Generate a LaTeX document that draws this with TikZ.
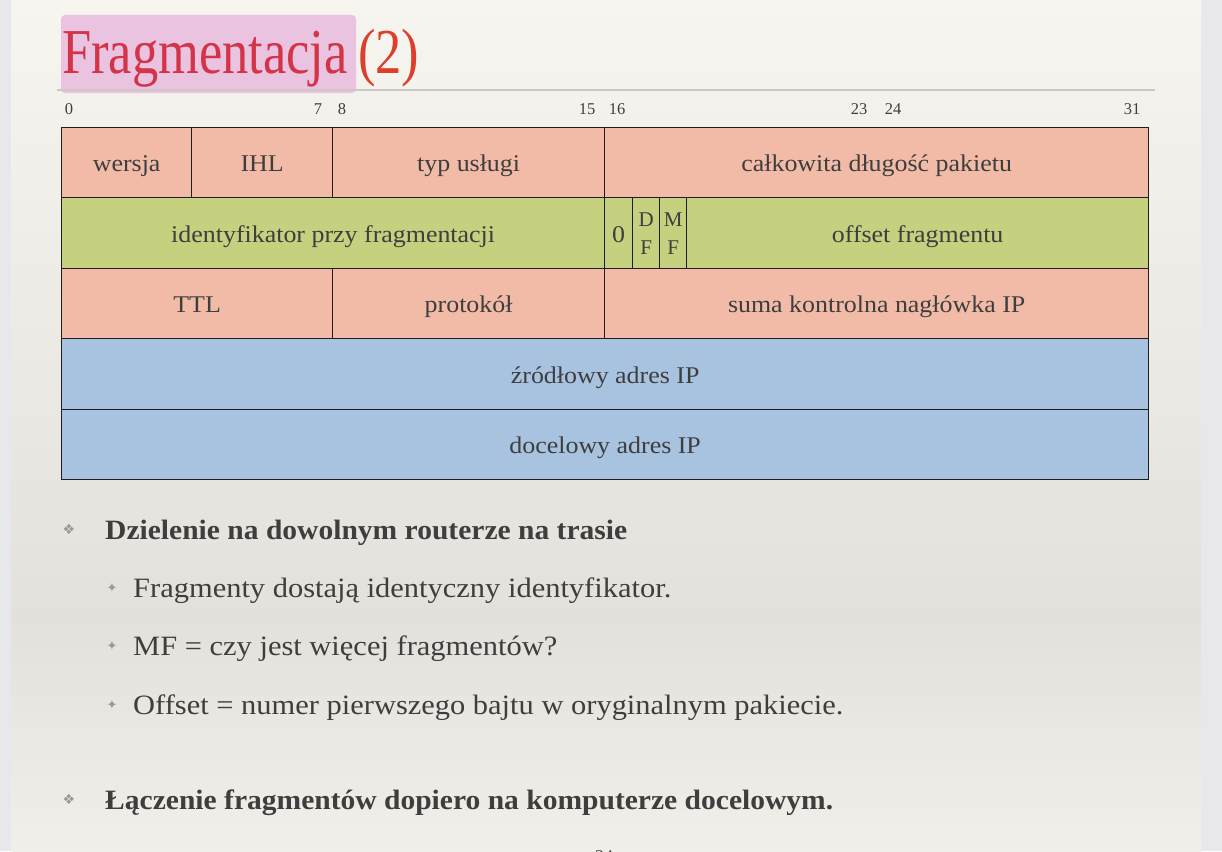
\documentclass[tikz,border=0pt]{standalone}
\usepackage{fontspec}
\setmainfont{Liberation Serif}
\newfontfamily\cellfont[FakeStretch=1.08]{Liberation Serif}
\newfontfamily\symfont{DejaVu Sans}
\definecolor{paper}{HTML}{F7F5F0}
\definecolor{papermid}{HTML}{E4E1DC}
\definecolor{edge}{HTML}{E8E8EC}
\definecolor{ink}{HTML}{3E3E3E}
\definecolor{cellline}{HTML}{1E1E1E}
\definecolor{salmon}{HTML}{F2BBA7}
\definecolor{olive}{HTML}{C5D17E}
\definecolor{skyb}{HTML}{A7C3E0}
\definecolor{titlered}{HTML}{D43447}
\definecolor{titleorange}{HTML}{DC3F2C}
\definecolor{hilite}{HTML}{EAC3E1}
\definecolor{rulegray}{HTML}{CCC9C4}
\definecolor{bulletgray}{HTML}{9A9896}
\begin{document}
\begin{tikzpicture}[x=1pt,y=-1pt,
  cellbox/.style={draw=cellline, line width=1.3pt, inner sep=0pt, anchor=north west, text=ink},
  cell/.style={cellbox, font=\cellfont\fontsize{24}{26}\selectfont, text height=18pt, text depth=0pt},
  stackcell/.style={cellbox, align=center, font=\fontsize{21}{28}\selectfont},
  bitno/.style={text=ink, font=\fontsize{16.5}{18}\selectfont, inner sep=0pt},
  mainitem/.style={anchor=base west, text=ink, inner sep=0pt, xscale=1.055,
    font=\fontsize{28}{32}\selectfont\bfseries},
  subitem/.style={anchor=base west, text=ink, inner sep=0pt, xscale=1.088,
    font=\fontsize{28}{32}\selectfont},
  mainmark/.style={text=bulletgray, inner sep=0pt, font=\symfont\fontsize{14}{15}\selectfont},
  submark/.style={text=bulletgray, inner sep=0pt, font=\symfont\fontsize{13}{14}\selectfont}]
\useasboundingbox (0,0) rectangle (1222,851);
% page and surroundings
\fill[edge] (0,0) rectangle (1222,851);
\shade[top color=paper, bottom color=papermid] (11,0) rectangle (1201,620);
\shade[top color=papermid, bottom color=paper!70!papermid] (11,620) rectangle (1201,851);

% title
\fill[hilite, rounded corners=4pt] (61,15) rectangle (356,93);
\node[anchor=base west, inner sep=0pt, text=titlered, xscale=0.82,
  font=\fontsize{64}{64}\selectfont] (title) at (62,73) {Fragmentacja};
\node[anchor=base west, inner sep=0pt, text=titleorange, xscale=0.82,
  font=\fontsize{64}{64}\selectfont] (titlenum) at (358,73) {(2)};
\draw[rulegray, line width=1.5pt] (57,90) -- (1155,90);

% bit numbers
\node[bitno] (b0)  at (69,109)  {0};
\node[bitno] (b7)  at (318,109) {7};
\node[bitno] (b8)  at (342,109) {8};
\node[bitno] (b15) at (587,109) {15};
\node[bitno] (b16) at (617,109) {16};
\node[bitno] (b23) at (859,109) {23};
\node[bitno] (b24) at (893,109) {24};
\node[bitno] (b31) at (1132,109) {31};

% row 1
\node[cell, fill=salmon, minimum width=130pt, minimum height=70pt] (ver) at (61,127) {wersja};
\node[cell, fill=salmon, minimum width=141pt, minimum height=70pt] (ihl) at (191,127) {IHL};
\node[cell, fill=salmon, minimum width=272pt, minimum height=70pt] (tos) at (332,127) {typ usługi};
\node[cell, fill=salmon, minimum width=544pt, minimum height=70pt] (len) at (604,127) {całkowita długość pakietu};
% row 2
\node[cell, fill=olive, minimum width=543pt, minimum height=71pt] (ident) at (61,197) {identyfikator przy fragmentacji};
\node[cell, fill=olive, minimum width=28pt, minimum height=71pt] (zero) at (604,197) {0};
\node[stackcell, fill=olive, minimum width=27pt, minimum height=71pt] (df) at (632,197) {D\\F};
\node[stackcell, fill=olive, minimum width=27pt, minimum height=71pt] (mf) at (659,197) {M\\F};
\node[cell, fill=olive, minimum width=462pt, minimum height=71pt] (off) at (686,197) {offset fragmentu};
% row 3
\node[cell, fill=salmon, minimum width=271pt, minimum height=70pt] (ttl) at (61,268) {TTL};
\node[cell, fill=salmon, minimum width=272pt, minimum height=70pt] (proto) at (332,268) {protokół};
\node[cell, fill=salmon, minimum width=544pt, minimum height=70pt] (csum) at (604,268) {suma kontrolna nagłówka IP};
% rows 4 and 5
\node[cell, fill=skyb, minimum width=1087pt, minimum height=71pt] (src) at (61,338) {źródłowy adres IP};
\node[cell, fill=skyb, minimum width=1087pt, minimum height=70pt] (dst) at (61,409) {docelowy adres IP};

% bullet list
\node[mainmark] (m1) at (69,529) {❖};
\node[mainitem] (t1) at (105,539) {Dzielenie na dowolnym routerze na trasie};
\node[submark] (s1) at (112,588) {✦};
\node[subitem] (u1) at (133,597) {Fragmenty dostają identyczny identyfikator.};
\node[submark] (s2) at (112,646) {✦};
\node[subitem] (u2) at (133,655) {MF = czy jest więcej fragmentów?};
\node[submark] (s3) at (112,705) {✦};
\node[subitem] (u3) at (133,714) {Offset = numer pierwszego bajtu w oryginalnym pakiecie.};
\node[mainmark] (m2) at (69,799) {❖};
\node[mainitem] (t2) at (105,809) {Łączenie fragmentów dopiero na komputerze docelowym.};

% page number
\node[text=ink, inner sep=0pt, font=\fontsize{18}{20}\selectfont] (pg) at (604,857) {24};
\end{tikzpicture}
\end{document}
